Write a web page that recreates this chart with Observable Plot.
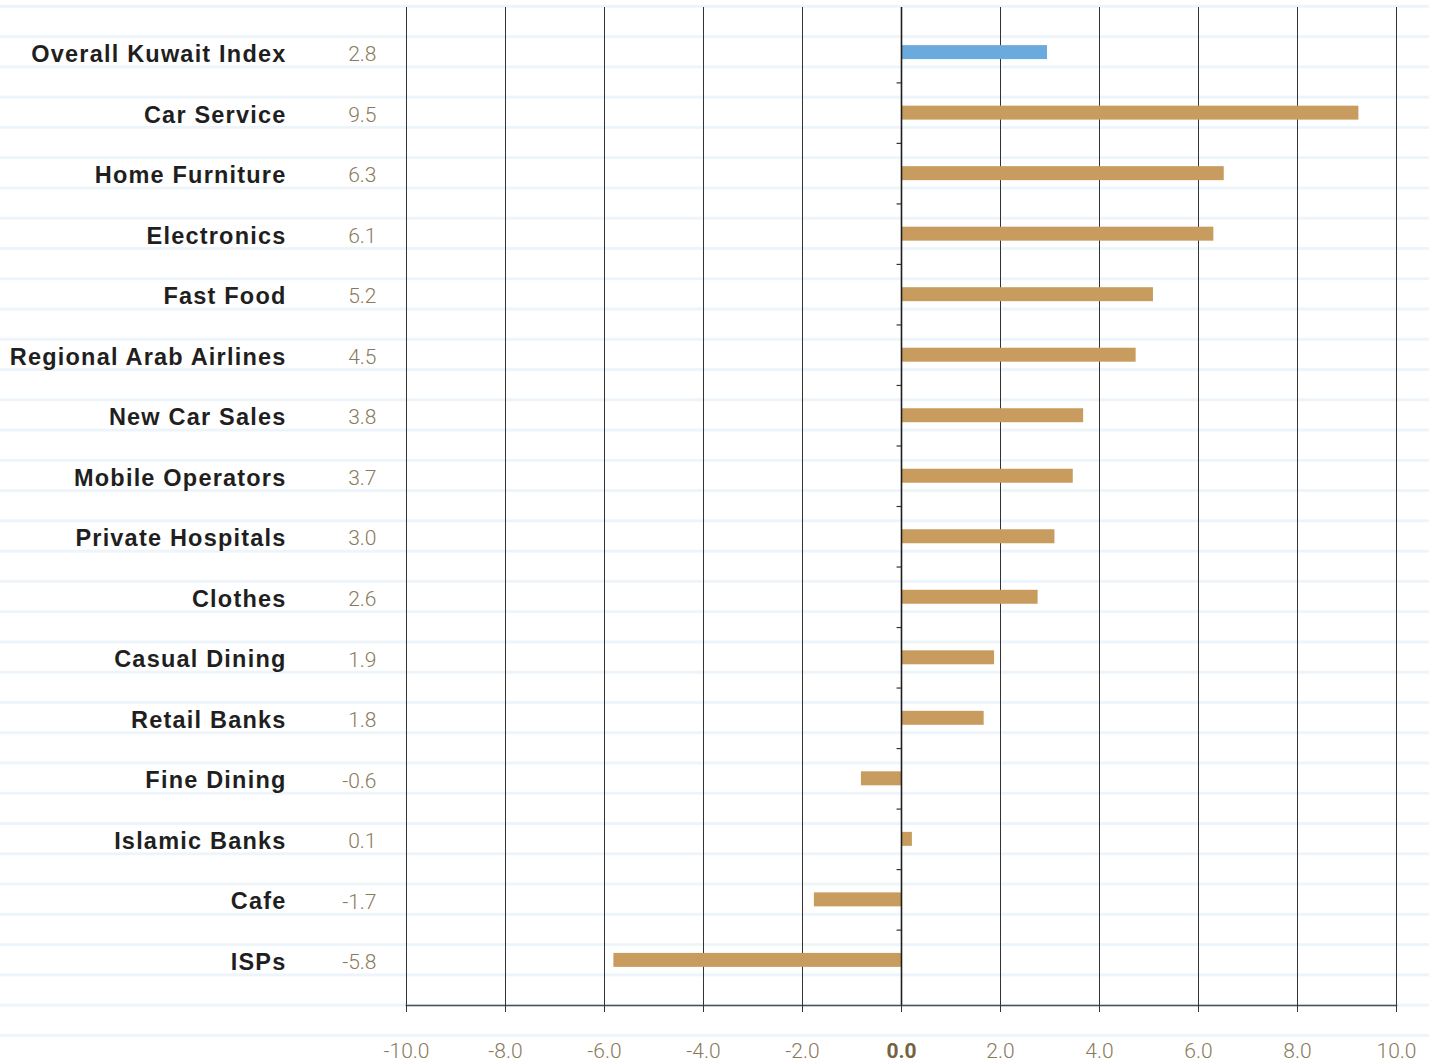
<!DOCTYPE html>
<html>
<head>
<meta charset="utf-8">
<script src="https://cdn.jsdelivr.net/npm/d3@7"></script>
<script src="https://cdn.jsdelivr.net/npm/@observablehq/plot@0.6"></script>
<style>
  html, body { margin: 0; padding: 0; background: #ffffff; }
  #chart {
    width: 1429px; height: 1063px; position: relative; overflow: hidden;
    background-image: linear-gradient(to bottom,
      transparent 0px, transparent 5.1px,
      #edf5fb 5.1px, #edf5fb 8.1px,
      transparent 8.1px, transparent 30.27px);
    background-size: 100% 30.27px;
    background-repeat: repeat-y;
  }
  #chart svg { display: block; }
  #chart g[font-family*="Liberation Sans"] text { letter-spacing: 1.2px; }
</style>
</head>
<body>
<div id="chart"></div>
<script>
// ---- data ----
const categories = [
  "Overall Kuwait Index", "Car Service", "Home Furniture", "Electronics",
  "Fast Food", "Regional Arab Airlines", "New Car Sales", "Mobile Operators",
  "Private Hospitals", "Clothes", "Casual Dining", "Retail Banks",
  "Fine Dining", "Islamic Banks", "Cafe", "ISPs"
];
// printed value labels
const labelValues = [2.8, 9.5, 6.3, 6.1, 5.2, 4.5, 3.8, 3.7, 3.0, 2.6, 1.9, 1.8, -0.6, 0.1, -1.7, -5.8];
// bar lengths as drawn in the picture
const barValues = [2.95, 9.24, 6.52, 6.31, 5.09, 4.74, 3.68, 3.47, 3.10, 2.76, 1.88, 1.67, -0.81, 0.22, -1.76, -5.81];
const groups = ["index", "sector", "sector", "sector", "sector", "sector", "sector", "sector",
  "sector", "sector", "sector", "sector", "sector", "sector", "sector", "sector"];
const xTicks = [-10, -8, -6, -4, -2, 0, 2, 4, 6, 8, 10];

const data = categories.map((name, i) => ({
  name, label: labelValues[i], bar: barValues[i], group: groups[i]
}));

const chart = Plot.plot({
  width: 1429,
  height: 1063,
  marginTop: 7,
  marginBottom: 58,
  marginLeft: 406,
  marginRight: 33,
  style: { background: "transparent", fontFamily: "Roboto, sans-serif", overflow: "visible" },
  x: { domain: [-10, 10], label: null },
  y: { domain: categories, paddingInner: 0.769, paddingOuter: 0.63, round: false, axis: null },
  color: { domain: ["index", "sector"], range: ["#6aaadc", "#c79c5e"] },
  marks: [
    Plot.gridX({ ticks: xTicks, stroke: "#333", strokeOpacity: 1, strokeWidth: 1 }),
    Plot.barX(data, { x: "bar", y: "name", fill: "group" }),
    Plot.ruleX([0], { stroke: "#1e1e1e", strokeWidth: 1.6 }),
    Plot.ruleY(categories.slice(1), { y: d => d, x1: -0.09, x2: 0, dy: -30.26, stroke: "#333", strokeWidth: 1.2 }),
    Plot.frame({ anchor: "bottom", stroke: "#4a4f55", strokeWidth: 1.6 }),
    Plot.axisX({ ticks: xTicks, tickSize: 7, tickFormat: () => "", stroke: "#333", label: null }),
    Plot.text(xTicks.filter(d => d !== 0), {
      x: d => d, text: d => d.toFixed(1), frameAnchor: "bottom", lineAnchor: "top", dy: 38,
      fontWeight: 300, fill: "#8a7a5c", fontSize: 21
    }),
    Plot.text(xTicks.filter(d => d === 0), {
      x: d => d, text: d => d.toFixed(1), frameAnchor: "bottom", lineAnchor: "top", dy: 38,
      fontWeight: "bold", fill: "#76623f", fontSize: 21
    }),
    Plot.text(data, {
      y: "name", text: "name", frameAnchor: "left", textAnchor: "end", dx: -120, dy: 2,
      fontSize: 23.5, fontWeight: "bold", fill: "#1f1f1f", fontFamily: "'Liberation Sans', Arial, sans-serif"
    }),
    Plot.text(data, {
      y: "name", text: d => d.label.toFixed(1), frameAnchor: "left", textAnchor: "end", dx: -30, dy: 2,
      fontSize: 21, fontWeight: 300, fill: "#8a7a5c"
    })
  ]
});
document.getElementById("chart").appendChild(chart);
</script>
</body>
</html>
